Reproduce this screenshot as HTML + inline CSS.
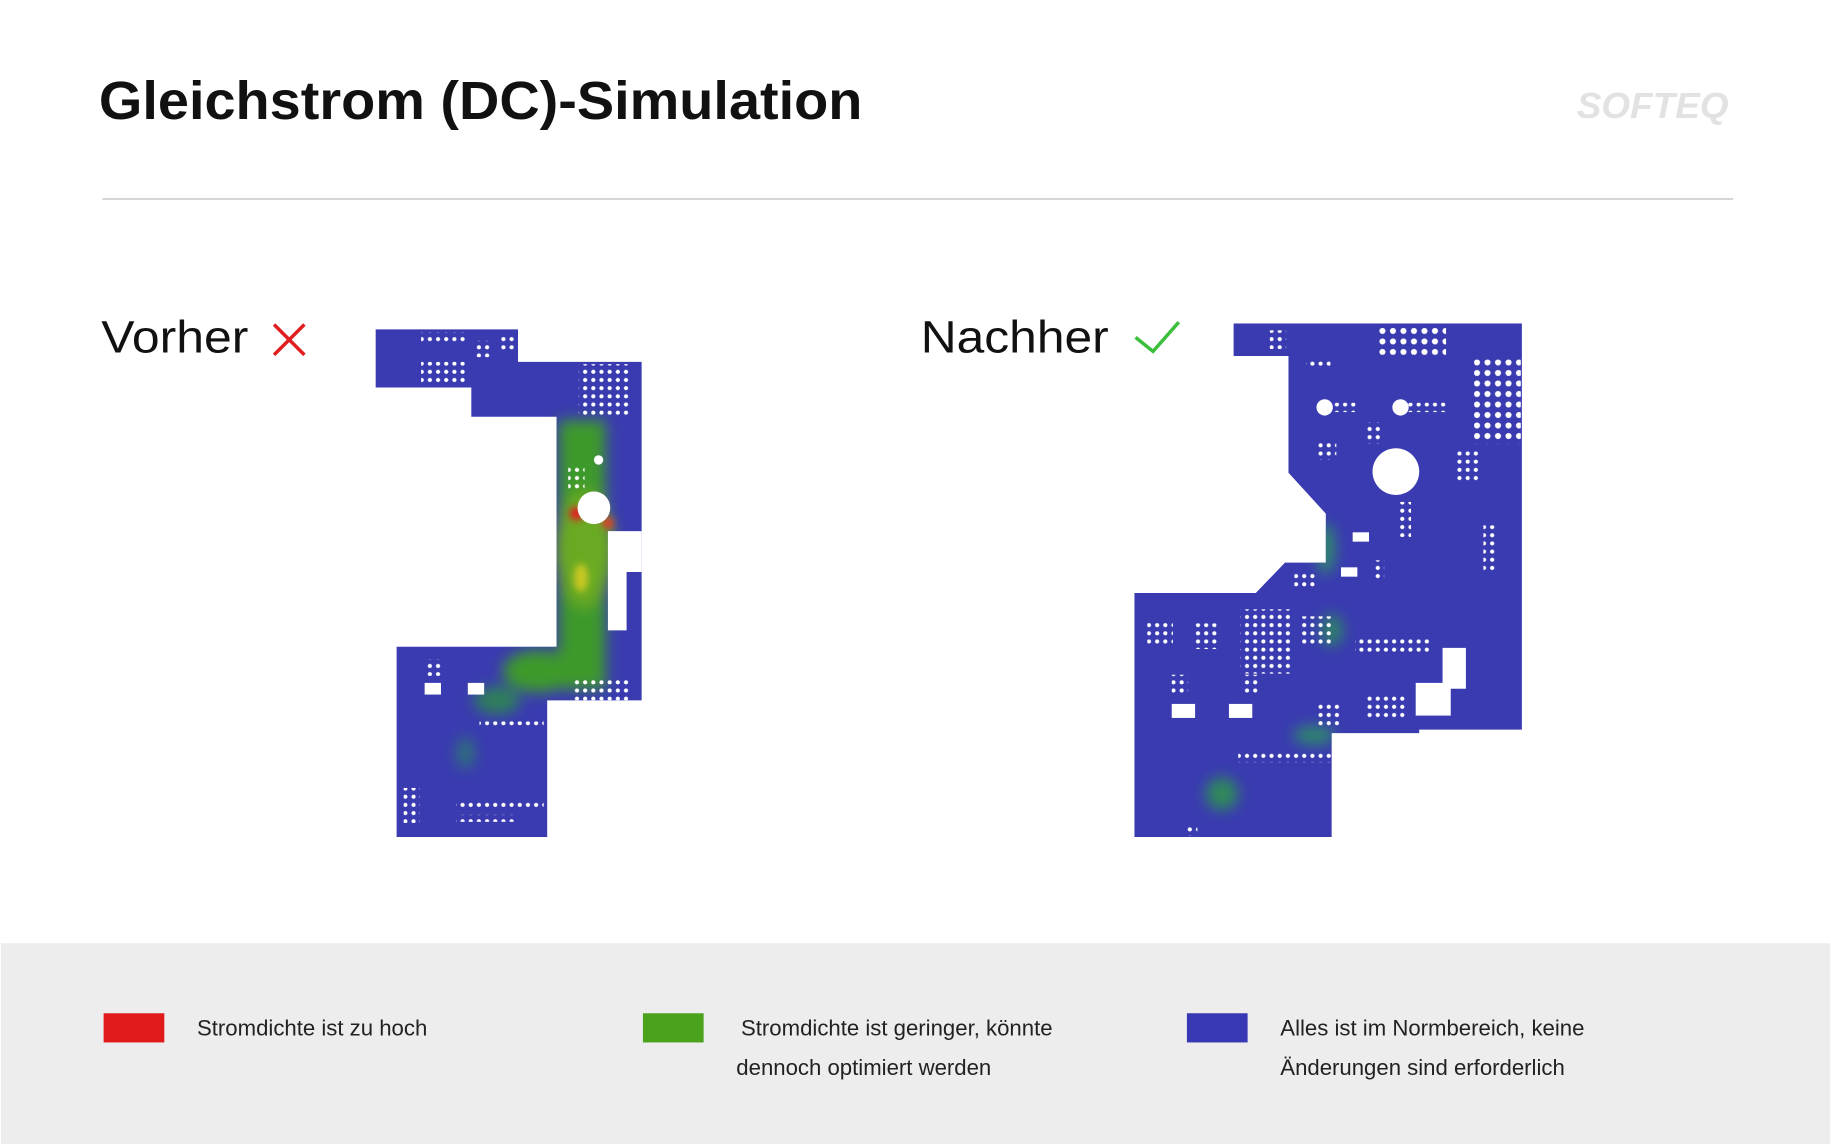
<!DOCTYPE html>
<html><head><meta charset="utf-8"><style>
html,body{margin:0;padding:0;background:#fff;}
svg{display:block;}
text{font-family:"Liberation Sans",sans-serif;}
</style></head><body>
<svg width="1831" height="1144" viewBox="0 0 1567 980" xmlns="http://www.w3.org/2000/svg">
<defs>
<filter id="b" x="-50%" y="-50%" width="200%" height="200%"><feGaussianBlur stdDeviation="6"/></filter>
<filter id="b2" x="-50%" y="-50%" width="200%" height="200%"><feGaussianBlur stdDeviation="3"/></filter>
<pattern id="dots" width="7" height="7" patternUnits="userSpaceOnUse"><circle cx="3.5" cy="3.5" r="1.8" fill="#fff"/></pattern>
<pattern id="bdots" width="9" height="9" patternUnits="userSpaceOnUse"><circle cx="4.5" cy="4.5" r="2.6" fill="#fff"/></pattern>
<clipPath id="lc"><path d="M321,282H443V310H549V600H468V717H339V554H476V357H403V332H321Z"/></clipPath>
<clipPath id="rc"><path d="M1056,277H1303V625H1215V628H1140V717H971V508H1075L1100,482H1135V440L1103,405V305H1056Z"/></clipPath>
</defs>
<rect width="1567" height="980" fill="#fff"/>
<text x="84" y="102" font-size="46" font-weight="bold" fill="#111" textLength="654" lengthAdjust="spacingAndGlyphs">Gleichstrom (DC)-Simulation</text>
<text x="1350" y="101" font-size="31" font-weight="bold" font-style="italic" fill="#e2e2e2" textLength="130" lengthAdjust="spacingAndGlyphs">SOFTEQ</text>
<line x1="87" y1="170.5" x2="1484" y2="170.5" stroke="#d0d0d0" stroke-width="1.5"/>
<text x="86" y="302" font-size="39" fill="#111" textLength="126" lengthAdjust="spacingAndGlyphs">Vorher</text>
<path d="M234,278L260,304M260,278L234,304" stroke="#e02020" stroke-width="3"/>
<text x="788" y="302" font-size="39" fill="#111" textLength="161" lengthAdjust="spacingAndGlyphs">Nachher</text>
<path d="M972,289L987,301L1009,276" stroke="#3cc03c" stroke-width="3" fill="none"/>

<!-- left board -->
<g clip-path="url(#lc)">
<rect x="300" y="270" width="270" height="460" fill="#3a3bb0"/>
<g filter="url(#b)">
<rect x="478" y="360" width="40" height="230" fill="#3d9a2c"/>
<ellipse cx="500" cy="470" rx="25" ry="50" fill="#6aaa20"/>
<ellipse cx="460" cy="575" rx="30" ry="18" fill="#3d9a2c"/>
<ellipse cx="425" cy="600" rx="20" ry="12" fill="#2f7f5a"/>
<ellipse cx="398" cy="645" rx="8" ry="14" fill="#2f6f7a"/>
</g>
<g filter="url(#b2)">
<ellipse cx="493" cy="440" rx="6" ry="6" fill="#e02020"/>
<ellipse cx="520" cy="448" rx="5" ry="5" fill="#e04020"/>
<ellipse cx="497" cy="495" rx="6" ry="12" fill="#c8c820"/>
</g>
<circle cx="508" cy="435" r="14" fill="#fff"/>
<circle cx="512" cy="394" r="4" fill="#fff"/>
<rect x="520" y="455" width="30" height="35" fill="#fff"/>
<rect x="520" y="490" width="16" height="50" fill="#fff"/>
<rect x="360" y="285" width="40" height="8" fill="url(#dots)"/>
<rect x="360" y="310" width="40" height="20" fill="url(#dots)"/>
<rect x="495" y="312" width="45" height="45" fill="url(#dots)"/>
<rect x="405" y="292" width="14" height="14" fill="url(#dots)"/>
<rect x="428" y="286" width="14" height="14" fill="url(#dots)"/>
<rect x="365" y="565" width="14" height="14" fill="url(#dots)"/>
<rect x="363" y="585" width="14" height="10" fill="#fff"/>
<rect x="400" y="585" width="14" height="10" fill="#fff"/>
<rect x="410" y="618" width="55" height="6" fill="url(#dots)"/>
<rect x="390" y="686" width="75" height="6" fill="url(#dots)"/>
<rect x="390" y="698" width="50" height="6" fill="url(#dots)"/>
<rect x="490" y="580" width="50" height="20" fill="url(#dots)"/>
<rect x="486" y="400" width="14" height="20" fill="url(#dots)"/>
<rect x="345" y="675" width="14" height="30" fill="url(#dots)"/>
</g>

<!-- right board -->
<g clip-path="url(#rc)">
<rect x="960" y="270" width="350" height="460" fill="#3a3bb0"/>
<g filter="url(#b)">
<ellipse cx="1135" cy="470" rx="8" ry="22" fill="#2f8a6a"/>
<ellipse cx="1140" cy="540" rx="10" ry="14" fill="#2f7f6a"/>
<ellipse cx="1046" cy="680" rx="14" ry="14" fill="#2f8a5a"/>
<ellipse cx="1125" cy="630" rx="18" ry="8" fill="#2f8a6a"/>
</g>
<circle cx="1195" cy="404" r="20" fill="#fff"/>
<circle cx="1134" cy="349" r="7" fill="#fff"/>
<circle cx="1199" cy="349" r="7" fill="#fff"/>
<rect x="1140" y="345" width="22" height="8" fill="url(#dots)"/>
<rect x="1205" y="345" width="35" height="8" fill="url(#dots)"/>
<rect x="1178" y="278" width="60" height="26" fill="url(#bdots)"/>
<rect x="1262" y="308" width="40" height="72" fill="url(#bdots)"/>
<rect x="1087" y="283" width="14" height="16" fill="url(#dots)"/>
<rect x="1118" y="308" width="21" height="8" fill="url(#dots)"/>
<rect x="1168" y="362" width="16" height="18" fill="url(#dots)"/>
<rect x="1246" y="385" width="22" height="28" fill="url(#dots)"/>
<rect x="1158" y="456" width="14" height="8" fill="#fff"/>
<rect x="1148" y="486" width="14" height="8" fill="#fff"/>
<rect x="1196" y="430" width="12" height="30" fill="url(#dots)"/>
<rect x="1270" y="450" width="10" height="40" fill="url(#dots)"/>
<rect x="1128" y="378" width="16" height="16" fill="url(#dots)"/>
<rect x="1108" y="490" width="20" height="14" fill="url(#dots)"/>
<rect x="1175" y="480" width="10" height="16" fill="url(#dots)"/>
<rect x="982" y="532" width="22" height="22" fill="url(#dots)"/>
<rect x="1022" y="534" width="22" height="22" fill="url(#dots)"/>
<rect x="1062" y="522" width="45" height="55" fill="url(#dots)"/>
<rect x="1112" y="528" width="28" height="24" fill="url(#dots)"/>
<rect x="1160" y="545" width="65" height="14" fill="url(#dots)"/>
<rect x="1003" y="603" width="20" height="12" fill="#fff"/>
<rect x="1052" y="603" width="20" height="12" fill="#fff"/>
<rect x="1212" y="585" width="30" height="28" fill="#fff"/>
<rect x="1235" y="555" width="20" height="35" fill="#fff"/>
<rect x="1128" y="602" width="20" height="22" fill="url(#dots)"/>
<rect x="1060" y="645" width="80" height="8" fill="url(#dots)"/>
<rect x="1170" y="595" width="35" height="22" fill="url(#dots)"/>
<rect x="1003" y="578" width="14" height="16" fill="url(#dots)"/>
<rect x="1063" y="578" width="14" height="16" fill="url(#dots)"/>
<rect x="1015" y="708" width="10" height="8" fill="url(#dots)"/>
</g>

<!-- footer -->
<rect x="0" y="808" width="1567" height="172" fill="#ededed"/>
<rect x="88" y="868" width="52" height="25" fill="#e0191b"/>
<text x="168" y="887" font-size="19" fill="#222">Stromdichte ist zu hoch</text>
<rect x="550" y="868" width="52" height="25" fill="#4aa21d"/>
<text x="634" y="887" font-size="19" fill="#222">Stromdichte ist geringer, könnte</text>
<text x="630" y="921" font-size="19" fill="#222">dennoch optimiert werden</text>
<rect x="1016" y="868" width="52" height="25" fill="#3838b4"/>
<text x="1096" y="887" font-size="19" fill="#222">Alles ist im Normbereich, keine</text>
<text x="1096" y="921" font-size="19" fill="#222">Änderungen sind erforderlich</text>
</svg>
</body></html>
